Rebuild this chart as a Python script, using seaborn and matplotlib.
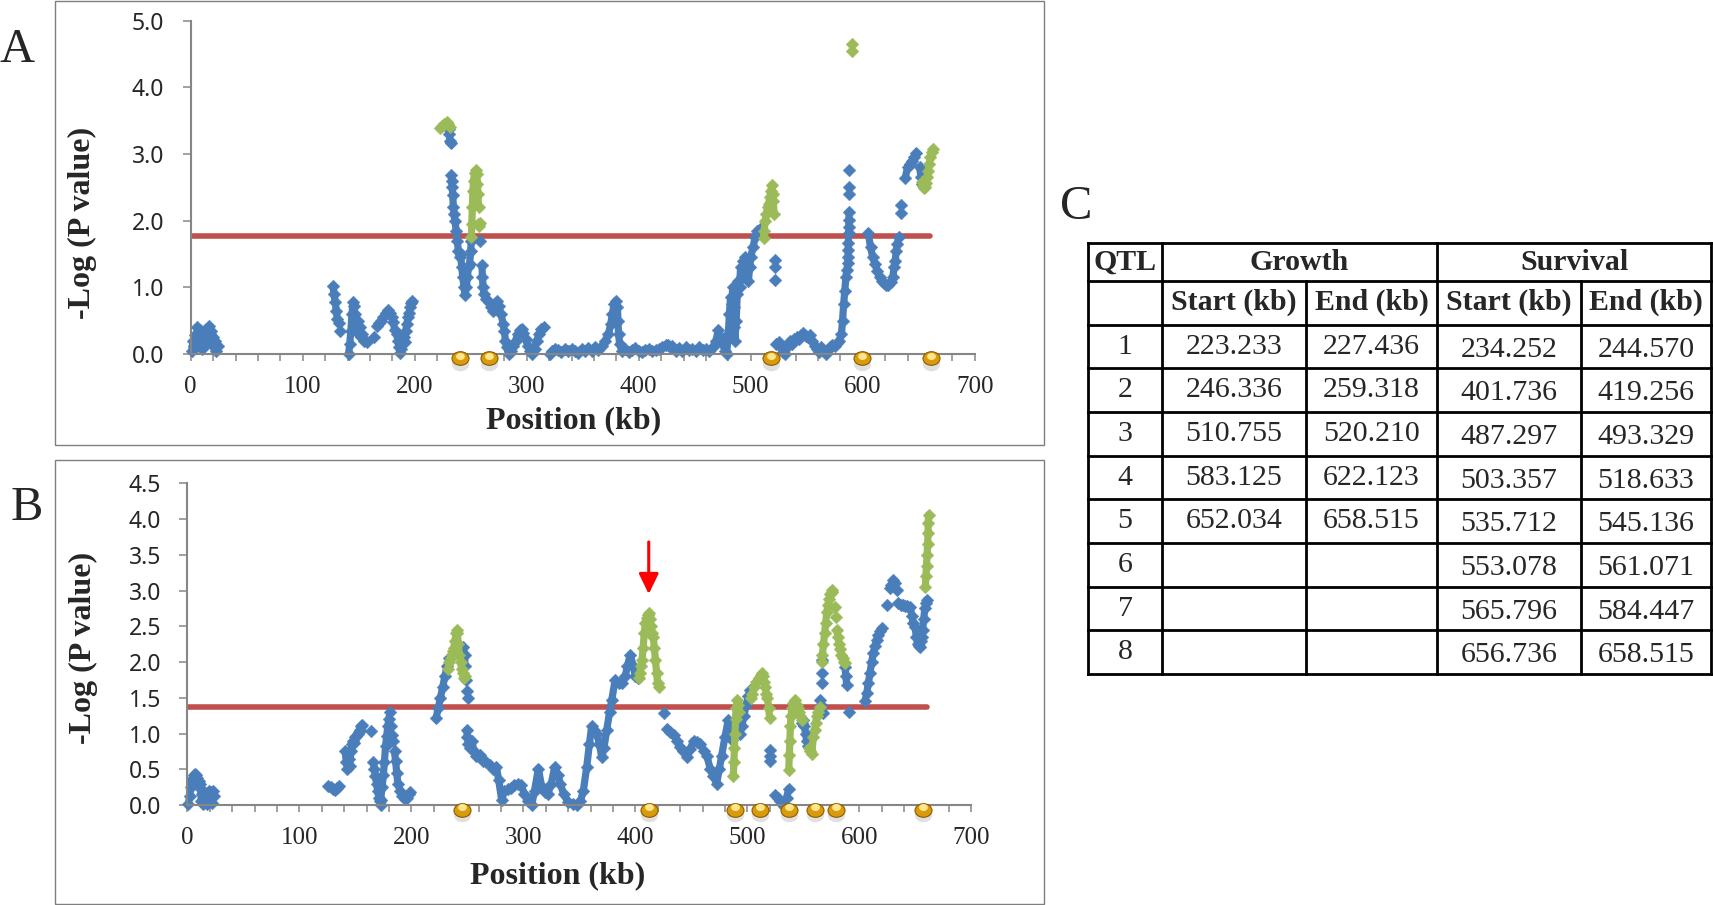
import numpy as np
import pandas as pd
import matplotlib
matplotlib.use("Agg")
import matplotlib.pyplot as plt
import matplotlib.transforms as mtransforms
from matplotlib.patches import Rectangle
from matplotlib.path import Path
import seaborn as sns

# ---------------------------------------------------------------
# Data: (position kb, -log P); None = gap
# ---------------------------------------------------------------
# Panel A (growth)
a_blue = [
    (1, 0.05), (2, 0.2), (3, 0.12), (4, 0.28), (5, 0.22), (6, 0.4), (7, 0.32), (8, 0.36),
    (9, 0.18), (10, 0.08), (11, 0.2), (12, 0.12), (13, 0.3), (14, 0.38), (15, 0.22),
    (16, 0.42), (17, 0.3), (18, 0.35), (19, 0.15), (20, 0.25), (21, 0.1), (22, 0.2),
    (23, 0.04), (24, 0.12), None,
    (127, 1.02), (128, 0.9), (129, 0.78), (130, 0.65), (131, 0.52), (132, 0.46), None,
    (133.5, 0.35), None,
    (141, 0.0), (142, 0.15), (143, 0.35), (144, 0.6), (145, 0.78), (146, 0.72), (146.5, 0.45),
    (147, 0.6), (148, 0.35), (149, 0.5), (150, 0.3), (151, 0.4), (152, 0.25), (153, 0.3),
    (155, 0.2), (157, 0.18), None,
    (164, 0.26), None,
    (166, 0.42), (168, 0.47), (170, 0.5), (172, 0.55), (174, 0.62), (176, 0.66), (178, 0.62),
    (180, 0.55), (181, 0.48), (182, 0.36), None,
    (184, 0.3), (185, 0.2), (186, 0.1), (187, 0.02), (188, 0.08), (189, 0.15), (190, 0.25),
    (191, 0.18), (192, 0.35), (193, 0.45), (194, 0.55), (195, 0.62), (196, 0.7), (197, 0.76),
    (198, 0.8), None,
    (230.5, 3.38), (231, 3.3), (231.5, 3.2), (232, 3.16), None,
    (232.5, 2.68), (233, 2.6), (233.5, 2.5), (234, 2.38), (234.5, 2.2), (235, 2.1), (236, 2.0),
    (237, 1.85), (238, 1.7), (239, 1.55), (240, 1.45), (241, 1.5), (242, 1.3), (243, 1.15),
    (244, 1.0), (245, 0.88), (246, 1.0), (247, 1.15), (248, 1.3), (249, 1.35), (250, 1.55),
    (250.5, 1.7), None,
    (258, 1.69), None,
    (260, 1.33), (260.5, 1.16), (261, 1.0), (262, 0.9), (264, 0.82), (266, 0.78), (268, 0.7),
    (270, 0.65), (272, 0.75), (273.5, 0.8), (275, 0.72), (277, 0.6), (279, 0.45), (280, 0.35),
    (281, 0.2), (282, 0.1), (284, 0.0), (286, 0.05), (288, 0.12), (290, 0.2), (292, 0.3),
    (294, 0.36), (295.5, 0.38), (297, 0.32), (299, 0.22), (301, 0.12), (303, 0.05), (305, 0.0),
    (307, 0.08), (309, 0.2), (311, 0.3), (313, 0.38), (315, 0.4), None,
    (321, 0.0), (323, 0.05), (325, 0.08), (328, 0.06), (331, 0.03), (334, 0.07), (337, 0.04),
    (340, 0.08), (343, 0.05), (346, 0.02), (349, 0.07), (352, 0.04), (355, 0.09), (358, 0.05),
    (361, 0.1), (364, 0.06), (367, 0.12), (370, 0.2), (373, 0.3), (375, 0.45), (376.5, 0.6),
    (378, 0.75), (379.5, 0.8), (381, 0.7), (381.5, 0.5), (382, 0.3), (383, 0.15), (385, 0.05),
    (388, 0.08), (391, 0.03), (394, 0.06), (397, 0.09), (400, 0.05), (403, 0.03), (406, 0.06),
    (409, 0.08), (412, 0.05), (415, 0.06), (418, 0.07), (421, 0.1), (424, 0.13), (426, 0.14),
    (428, 0.1), (430, 0.12), (433, 0.05), (436, 0.09), (439, 0.04), (442, 0.1), (445, 0.06),
    (448, 0.08), (451, 0.05), (454, 0.1), (457, 0.06), (460, 0.08), (463, 0.05), (466, 0.1),
    (469, 0.2), (471, 0.36), (473, 0.25), (475, 0.15), (477, 0.05), (478.5, 0.0), (480, 0.3),
    (481, 0.6), (482, 0.85), (483, 0.75), (484, 1.0), (485, 0.7), (485.5, 0.4), (486, 0.2),
    (487, 0.5), (488, 0.9), (489, 1.1), (490, 1.0), (491, 1.3), (492, 1.15), (493, 1.4),
    (494, 1.2), (495, 1.45), (496, 1.25), (497, 1.35), (498, 1.1), (499, 1.3), (500, 1.45),
    (502, 1.6), (504, 1.75), (506, 1.85), (508, 1.88), (510, 1.82), None,
    (522, 1.41), None, (522, 1.3), None, (522, 1.11), None,
    (523, 0.15), (525, 0.18), (527, 0.1), (529, 0.03), (531, 0.0), (533, 0.12), (535, 0.2),
    (537, 0.15), (539, 0.22), (541, 0.25), (543, 0.22), (545, 0.28), (547, 0.31), (549, 0.27),
    (551, 0.25), (553, 0.28), (555, 0.2), (557, 0.12), (559, 0.08), (561, 0.03), (563, 0.1),
    (565, 0.05), (567, 0.0), (569, 0.06), (571, 0.1), (573, 0.14), (575, 0.12), (577, 0.16),
    (579, 0.2), (581, 0.3), (582, 0.5), (583, 0.75), (584, 0.95), (585, 1.15), (585.8, 1.26),
    (586.7, 1.36), (586.9, 1.46), (587, 1.56), (587.2, 1.66), (587.4, 1.81), (587.6, 1.91),
    (587.7, 2.01), (587.8, 2.13), None,
    (588, 2.4), None, (588, 2.5), None, (588.2, 2.76), None,
    (605, 1.81), (607, 1.6), (609, 1.45), (611, 1.35), (613, 1.25), (615, 1.15), (617, 1.1),
    (619, 1.06), (621, 1.03), (623, 1.04), (625, 1.08), (627, 1.16), (628, 1.3), (629, 1.4),
    (630, 1.55), (631, 1.65), (632, 1.76), None,
    (634.5, 2.23), None, (634.5, 2.11), None,
    (638, 2.64), (640, 2.8), (642, 2.85), (644, 2.9), (646, 2.95), (648, 3.01), None,
    (650.8, 2.81), (652, 2.65), (653, 2.55),
]
a_green = [
    (222.6, 3.39), (224, 3.42), (226, 3.45), (228.6, 3.48), (230, 3.45), (231.5, 3.41), None,
    (250.5, 1.75), (251, 1.95), (251.5, 2.2), (252, 2.45), (252.5, 2.6), (253.5, 2.72),
    (254.5, 2.76), (255.5, 2.7), (256, 2.55), (256.5, 2.4), (257, 2.2), None,
    (256.5, 1.95), (257.5, 1.92), (258, 1.96), None,
    (511.5, 1.74), (512, 1.85), (513, 2.0), (514, 2.1), (515, 2.2), (516, 2.25), (517, 2.35),
    (518, 2.45), (518.7, 2.53), (519.5, 2.4), (520, 2.3), (521, 2.1), None,
    (590, 4.55), None, (590, 4.65), None,
    (652.5, 2.58), (653.5, 2.52), (654.5, 2.49), (655.5, 2.5), (656.5, 2.56), (657.5, 2.65),
    (658.5, 2.75), (659.5, 2.85), (660.5, 2.95), (661.5, 3.03), (662.5, 3.08),
]
a_threshold = 1.77
a_qtl_marks = [240, 266, 518, 599, 661]

# Panel B (survival)
b_blue = [
    (1, 0.02), (2, 0.12), (3, 0.25), (4, 0.33), (5, 0.38), (6, 0.42), (7, 0.44), (8, 0.42),
    (9, 0.38), (10, 0.34), (11, 0.3), (12, 0.22), (12.5, 0.05), (13, 0.15), (14, 0.02),
    (15, 0.18), (16, 0.05), (17, 0.15), (18, 0.02), (19, 0.2), (20, 0.1), (21, 0.18),
    (22, 0.03), (23, 0.2), (24, 0.12), None,
    (126, 0.27), (128, 0.25), (130, 0.22), (132, 0.21), (134, 0.24), (135, 0.27), None,
    (141, 0.75), (142, 0.6), (143, 0.5), (144, 0.65), (145, 0.55), (146, 0.75), (147, 0.85),
    (148, 0.9), (149, 0.87), (150, 0.95), (151, 0.97), (152, 1.0), (153, 1.02), (154, 1.05),
    (155, 1.1), (156, 1.12), None,
    (164, 1.03), None,
    (166, 0.6), (167, 0.5), (168, 0.4), (169, 0.3), (170, 0.2), (171, 0.1), (172, 0.05),
    (173, 0.0), None,
    (172.5, 0.07), (174, 0.25), (175, 0.42), (176, 0.6), (177, 0.82), (178, 0.96), (179, 1.1),
    (180, 1.2), (181, 1.3), None,
    (182, 1.1), None, (183, 0.98), None, (184, 0.9), None,
    (185, 0.75), (186, 0.61), (187, 0.45), (188, 0.3), (190, 0.2), (192, 0.12), (194, 0.08),
    (196, 0.1), (198, 0.15), (199, 0.18), None,
    (222, 1.21), (224, 1.35), (226, 1.5), (228, 1.65), (230, 1.8), (232, 1.95), (234, 2.05), None,
    (246.5, 2.21), (247.5, 2.1), (248, 1.95), None, (249, 1.75), None, (250, 1.6), None,
    (251, 1.49), None,
    (249.5, 1.05), (250, 0.95), (251, 0.85), (252, 0.8), (254, 0.9), (256, 0.75), (258, 0.68),
    (261, 0.7), (264, 0.62), (267, 0.6), (270, 0.56), (273, 0.5), (276, 0.53), (278, 0.35),
    (280.7, 0.07), (283, 0.2), (286, 0.22), (289, 0.24), (292, 0.28), (295, 0.3), (298, 0.28),
    (301, 0.15), (304, 0.06), (307.5, 0.0), (310, 0.2), (313.5, 0.51), (316.4, 0.25),
    (319, 0.18), (322, 0.16), (325, 0.3), (328, 0.53), (331, 0.42), (333, 0.3), (336, 0.15),
    (340, 0.04), (344, 0.02), (347.7, 0.0), (351, 0.05), (353.6, 0.2), (356.6, 0.53),
    (359, 0.85), (361, 1.1), (363, 1.05), (365.5, 1.0), (368, 0.85), (370, 0.67), (372, 0.8),
    (374.5, 1.05), (377, 1.3), (379, 1.47), (382, 1.75), (385, 1.7), (388, 1.7), (391, 1.8),
    (393, 1.95), (395.5, 2.1), (398, 1.95), (400, 1.8), (402, 1.77), None,
    (426, 1.29), None,
    (428.4, 1.07), (431, 1.02), (434.3, 0.98), (437, 0.9), (440.3, 0.81), (443, 0.75),
    (446.3, 0.67), (449, 0.78), (452, 0.9), (455, 0.88), (458, 0.86), (461, 0.75), (464, 0.68),
    (467, 0.5), (469.7, 0.4), (472.6, 0.3), (475, 0.5), (477, 0.68), (480, 0.95), (483, 1.19),
    (485, 1.05), (486, 0.91), None,
    (493.5, 1.0), (495, 1.1), (497, 1.25), (499, 1.4), (501, 1.52), (502.5, 1.61), None,
    (520.7, 0.77), None, (520.7, 0.68), None, (520.7, 0.61), None,
    (525, 0.14), (527, 0.1), (529, 0.06), (531, 0.02), (533, -0.02), (535, 0.1), (537, 0.23), None,
    (549, 1.15), (550, 1.19), (551, 1.1), (552, 1.0), (553, 0.9), (554.5, 0.82), None,
    (565, 1.47), (566, 1.4), (567, 1.3), (568, 1.28), None,
    (566.4, 1.7), None, (566.4, 1.85), None, (566.4, 2.03), None,
    (587.3, 1.93), (588, 1.8), (588.8, 1.68), None,
    (591.1, 1.3), None,
    (605, 1.45), (606.6, 1.56), (608, 1.7), (609.6, 1.85), (611, 2.0), (612.5, 2.12),
    (614, 2.22), (615.5, 2.31), (617, 2.38), (618.5, 2.43), (620, 2.47), None,
    (624.4, 2.8), None,
    (627.4, 3.03), (628.5, 3.08), (630.3, 3.15), (631.5, 3.1), (633.3, 3.01), None,
    (634.8, 2.82), (637, 2.8), (639, 2.8), (641, 2.79), (643, 2.78), (645.2, 2.77), (647, 2.65),
    (648.2, 2.54), (649.7, 2.49), (651, 2.35), (652, 2.25), (653, 2.22), (654.2, 2.21),
    (655, 2.3), (655.6, 2.35), (656.5, 2.45), (657.5, 2.6), (658.5, 2.75), (659.5, 2.82),
    (660.1, 2.87),
]
b_green = [
    (233, 1.9), (234, 2.0), (235, 2.05), (236, 2.1), (237, 2.15), (238, 2.2), (239, 2.3),
    (240, 2.4), (240.5, 2.45), (241, 2.4), (242, 2.25), (243, 2.1), (244, 2.0), (245, 1.9),
    (246, 1.85), (247, 1.78), (248, 1.8), None,
    (403, 1.77), (404, 1.85), (405, 1.95), (406, 2.03), (407, 2.2), (408, 2.4), (409, 2.54),
    (410, 2.62), (411, 2.66), (412, 2.68), (413, 2.6), (414, 2.5), (415, 2.4), (416, 2.35),
    (417, 2.2), (418, 2.03), (419, 1.85), (420, 1.7), (421, 1.65), None,
    (487.5, 0.4), (488, 0.6), (488.5, 0.8), (489, 1.0), (489.5, 1.2), (490, 1.35), (491, 1.47),
    (492, 1.4), (493, 1.3), None,
    (503, 1.5), (504, 1.55), (506, 1.65), (508, 1.72), (510, 1.78), (512, 1.82), (513, 1.84),
    (514, 1.8), (515, 1.72), (516, 1.65), (517, 1.55), (518, 1.5), (519, 1.36), (520, 1.22), None,
    (537, 0.49), (537.5, 0.7), (538, 0.9), (538.5, 1.1), (539, 1.25), (540, 1.35), (541, 1.42),
    (542.6, 1.47), (544, 1.4), (545, 1.35), (546, 1.3), (547, 1.25), (548.5, 1.19), None,
    (555, 0.8), (556, 0.75), (557.5, 0.72), (559, 0.95), (560, 1.05), (561, 1.15), (562, 1.25),
    (563, 1.3), (565, 1.37), None,
    (566.5, 2.0), (567, 2.1), (568, 2.25), (569, 2.4), (570, 2.55), (571, 2.7), (572, 2.8),
    (573, 2.88), (574, 2.95), (575.4, 3.01), (576, 2.98), None,
    (578, 2.77), None, (579, 2.63), None,
    (580, 2.45), (581, 2.35), (582, 2.25), (583, 2.18), (584, 2.1), (585, 2.05), (586, 2.0),
    (587, 1.98), None,
    (659, 3.05), (659.5, 3.2), (660, 3.35), (660.5, 3.5), (661, 3.65), (661.3, 3.8),
    (661.6, 3.95), (661.8, 4.06),
]
b_threshold = 1.37
b_qtl_marks = [245, 412, 489, 511, 537, 560, 579, 657]
b_arrow_pos = 412
b_arrow_from = 3.68
b_arrow_to = 2.95

threshold_end = 660  # kb, where the red significance line stops

# Panel C table
qtl_ids = ["1", "2", "3", "4", "5", "6", "7", "8"]
growth_start = ["223.233", "246.336", "510.755", "583.125", "652.034", "", "", ""]
growth_end = ["227.436", "259.318", "520.210", "622.123", "658.515", "", "", ""]
survival_start = ["234.252", "401.736", "487.297", "503.357", "535.712", "553.078", "565.796", "656.736"]
survival_end = ["244.570", "419.256", "493.329", "518.633", "545.136", "561.071", "584.447", "658.515"]

# ---------------------------------------------------------------
# Style
# ---------------------------------------------------------------
W, H = 1713, 905
BLUE = "#4A7EBB"
GREEN = "#9BBB59"
RED = "#C0504D"
GRAY = "#868686"

sns.set_theme(style="white")
plt.rcParams["font.family"] = ["Liberation Serif", "DejaVu Serif"]

fig = plt.figure(figsize=(W / 100, H / 100), dpi=100)
fig.patch.set_facecolor("white")


def to_frame(points):
    rows, seg = [], 0
    for p in points:
        if p is None:
            seg += 1
            continue
        rows.append((p[0], p[1], seg))
    return pd.DataFrame(rows, columns=["pos", "val", "seg"])


def draw_series(ax, points, color, z):
    df = to_frame(points)
    sns.lineplot(data=df, x="pos", y="val", units="seg", estimator=None, sort=False,
                 color=color, linewidth=5.2, solid_capstyle="round",
                 solid_joinstyle="round", ax=ax, legend=False, clip_on=False, zorder=z)
    sns.scatterplot(data=df, x="pos", y="val", marker="D", s=42, color=color,
                    edgecolor=color, linewidth=0.3, ax=ax, legend=False,
                    clip_on=False, zorder=z + 0.5)


# flattened ellipse marker for the gold QTL beads
circle = Path.unit_circle()
bead = Path(circle.vertices * np.array([1.0, 0.8]), circle.codes)


def draw_beads(ax, marks):
    y0 = np.zeros(len(marks))
    shadow = mtransforms.offset_copy(ax.transData, fig=fig, x=0, y=-10, units="dots")
    base = mtransforms.offset_copy(ax.transData, fig=fig, x=0, y=-4.5, units="dots")
    shine = mtransforms.offset_copy(ax.transData, fig=fig, x=0, y=-2, units="dots")
    ax.scatter(marks, y0, marker=bead, s=150, color="#D4D4D4", alpha=0.7, linewidths=0,
               transform=shadow, clip_on=False, zorder=5)
    ax.scatter(marks, y0, marker=bead, s=150, color="#D99A0B", edgecolors="#8C5C00",
               linewidths=0.8, transform=base, clip_on=False, zorder=6)
    ax.scatter(marks, y0, marker=bead, s=40, color="#FFE58C", linewidths=0,
               transform=shine, clip_on=False, zorder=7)


def style_axis(ax, ymax, ystep):
    ax.set_xlim(0, 700)
    ax.set_ylim(0, ymax)
    ax.set_facecolor("white")
    for side in ["top", "right"]:
        ax.spines[side].set_visible(False)
    for side in ["left", "bottom"]:
        ax.spines[side].set_color(GRAY)
        ax.spines[side].set_linewidth(1.5)
    xt = np.arange(0, 701, 20)
    ax.set_xticks(xt)
    ax.set_xticklabels([str(t) if t % 100 == 0 else "" for t in xt],
                       fontsize=18, family="Liberation Serif")
    yt = np.arange(0, ymax + 0.01, ystep)
    ax.set_yticks(yt)
    ax.set_yticklabels([f"{v:.1f}" for v in yt], fontsize=16.5, family="Noto Sans")
    ax.tick_params(axis="x", direction="out", length=5, width=1.1, color=GRAY, pad=11,
                   bottom=True)
    ax.tick_params(axis="y", direction="out", length=6, width=1.1, color=GRAY, pad=13,
                   left=True)
    ax.grid(False)


def panel(rect, blue, green, thr, marks, ymax, ystep, xlab_xy, ylab_xy):
    ax = fig.add_axes(rect)
    ax.hlines(thr, 0, threshold_end, color=RED, linewidth=4, zorder=1,
              capstyle="round")
    draw_series(ax, blue, BLUE, 2)
    draw_series(ax, green, GREEN, 3)
    draw_beads(ax, marks)
    style_axis(ax, ymax, ystep)
    ax.set_xlabel("Position (kb)", fontsize=23, fontweight="bold", va="center")
    ax.xaxis.set_label_coords(*xlab_xy)
    ax.set_ylabel("-Log (P value)", fontsize=23, fontweight="bold", va="center")
    ax.yaxis.set_label_coords(*ylab_xy)
    return ax


def px_rect(x0, top, x1, bottom):
    return [x0 / W, 1 - bottom / H, (x1 - x0) / W, (bottom - top) / H]


# panel frames
for top in (0.5, 460):
    fig.patches.append(Rectangle((55 / W, 1 - (top + 444) / H), 989 / W, 444 / H,
                                 transform=fig.transFigure, fill=False,
                                 edgecolor="#7F7F7F", linewidth=1.0))

ax_a = panel(px_rect(190.7, 20.7, 974.7, 354), a_blue, a_green, a_threshold,
             a_qtl_marks, 5.0, 1.0, (0.488, -0.201), (-0.138, 0.393))
ax_b = panel(px_rect(187.3, 483.3, 971.3, 805), b_blue, b_green, b_threshold,
             b_qtl_marks, 4.5, 0.5, (0.472, -0.221), (-0.132, 0.487))

ax_b.annotate("", xy=(b_arrow_pos, b_arrow_to), xytext=(b_arrow_pos, b_arrow_from),
              arrowprops=dict(arrowstyle="-|>,head_length=0.62,head_width=0.3",
                              color="#FF0000", lw=2.2, mutation_scale=20,
                              shrinkA=0, shrinkB=0), zorder=8)

# panel letters
fig.text(0 / W, 1 - 62 / H, "A", fontsize=35, ha="left", va="baseline")
fig.text(11 / W, 1 - 520 / H, "B", fontsize=35, ha="left", va="baseline")
fig.text(1060 / W, 1 - 219 / H, "C", fontsize=35, ha="left", va="baseline")

# ---------------------------------------------------------------
# Panel C: QTL interval table
# ---------------------------------------------------------------
col_edges = [1088, 1162, 1306, 1437, 1581, 1711]
row_edges = [243, 281] + [281 + 43.67 * (i + 1) for i in range(9)]
tab = fig.add_axes(px_rect(col_edges[0], row_edges[0], col_edges[-1], row_edges[-1]))
tab.set_xlim(col_edges[0], col_edges[-1])
tab.set_ylim(row_edges[-1], row_edges[0])
tab.axis("off")

lw_tab = 2.0
for y in row_edges:
    tab.plot([col_edges[0], col_edges[-1]], [y, y], color="black", lw=lw_tab,
             clip_on=False, solid_capstyle="projecting")
for i, x in enumerate(col_edges):
    y_start = row_edges[1] if i in (2, 4) else row_edges[0]
    tab.plot([x, x], [y_start, row_edges[-1]], color="black", lw=lw_tab,
             clip_on=False, solid_capstyle="projecting")


def mid(a, b):
    return (a + b) / 2


fs_tab = 21.5
hdr = dict(fontsize=fs_tab, fontweight="bold", ha="center", va="center")
tab.text(mid(col_edges[0], col_edges[1]), mid(row_edges[0], row_edges[1]), "QTL", **hdr)
tab.text(mid(col_edges[1], col_edges[3]), mid(row_edges[0], row_edges[1]), "Growth", **hdr)
tab.text(mid(col_edges[3], col_edges[5]), mid(row_edges[0], row_edges[1]), "Survival", **hdr)
for j, lab in enumerate(["Start (kb)", "End (kb)", "Start (kb)", "End (kb)"]):
    tab.text(mid(col_edges[j + 1], col_edges[j + 2]), mid(row_edges[1], row_edges[2]),
             lab, **hdr)

cell = dict(fontsize=fs_tab, ha="center", va="center")
columns = [qtl_ids, growth_start, growth_end, survival_start, survival_end]
for j, col in enumerate(columns):
    shift = 3 if j >= 3 else 0
    for i, txt in enumerate(col):
        tab.text(mid(col_edges[j], col_edges[j + 1]),
                 mid(row_edges[i + 2], row_edges[i + 3]) + shift, txt, **cell)

fig.savefig("out.png", dpi=100, facecolor="white")
